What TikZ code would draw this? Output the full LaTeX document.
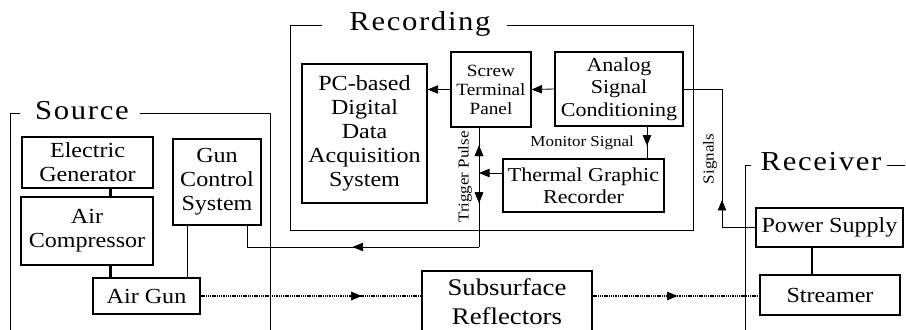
\documentclass[tikz,border=0pt]{standalone}
\usepackage{fontspec}
\setmainfont[FakeStretch=1.12]{Liberation Serif}
\newfontfamily\titlefont[FakeStretch=1.12,LetterSpace=6]{Liberation Serif}
\usetikzlibrary{arrows.meta,decorations.markings}

\tikzset{
  unit/.style={rectangle, draw, line width=0.8pt, align=center, inner sep=1pt,
    font=\fontsize{15.3}{17}\selectfont},
  frame/.style={line width=0.6pt},
  title/.style={font=\titlefont\fontsize{19.5}{21}\selectfont, inner sep=0pt},
  tag/.style={font=\fontsize{10.8}{12}\selectfont, inner sep=0pt},
  link/.style={line width=0.6pt},
  feed/.style={line width=1.6pt},
  wave/.style={line width=0.8pt, dash pattern=on 0.8pt off 0.5pt},
  >={Triangle[length=7.5pt,width=6pt]},
  tip/.style={postaction={decorate}, decoration={markings,
    mark=at position #1 with {\arrow{Triangle[length=7.5pt,width=6pt]}}}},
  backtip/.style={postaction={decorate}, decoration={markings,
    mark=at position #1 with {\arrowreversed{Triangle[length=7.5pt,width=6pt]}}}}
}

\begin{document}
\begin{tikzpicture}[x=0.025cm, y=-0.025cm]
  \clip (0,0) rectangle (906,329);

  % Frames
  \draw[frame] (322,25) -- (290,25) -- (290,230) -- (693,230) -- (693,25) -- (507,25);
  \node[title] (rectitle) at (420,24) {Recording};
  \draw[frame] (20,113) -- (10,113) -- (10,340);
  \draw[frame] (140,113) -- (270,113) -- (270,340);
  \node[title] (srctitle) at (82,111) {Source};
  \draw[frame] (751,165) -- (745,165) -- (745,340);
  \draw[frame] (887,165) -- (905,165);
  \node[title] (rcvtitle) at (821,162) {Receiver};

  % Source units
  \node[unit, minimum width=3.275cm, minimum height=1.275cm] (gen) at (87.5,162.5) {Electric\\Generator};
  \node[unit, minimum width=3.3cm, minimum height=1.7cm] (comp) at (87,231) {Air\\Compressor};
  \node[unit, minimum width=2.675cm, minimum height=0.9cm] (gun) at (146.5,296) {Air Gun};
  \node[unit, minimum width=2.2cm, minimum height=2.15cm] (gcs) at (217,182) {Gun\\Control\\System};

  % Recording units
  \node[unit, minimum width=3.125cm, minimum height=3.475cm] (pc) at (364.5,133.5) {PC-based\\Digital\\Data\\Acquisition\\System};
  \node[unit, minimum width=2cm, minimum height=1.875cm, font=\fontsize{12.2}{13.5}\selectfont] (screw) at (491,89.5) {Screw\\Terminal\\Panel};
  \node[unit, minimum width=3.2cm, minimum height=1.85cm, font=\fontsize{14}{16}\selectfont] (analog) at (619,89) {Analog\\Signal\\Conditioning};
  \node[unit, minimum width=4.025cm, minimum height=1.325cm, font=\fontsize{14}{15.6}\selectfont] (thermal) at (583.5,185.5) {Thermal Graphic\\Recorder};

  % Receiver units
  \node[unit, minimum width=3.675cm, minimum height=0.975cm] (power) at (829.5,227.5) {Power Supply};
  \node[unit, minimum width=3.5cm, minimum height=1cm] (streamer) at (830,295) {Streamer};
  \node[unit, minimum width=4.25cm, minimum height=1.55cm, font=\fontsize{17}{20.5}\selectfont] (refl) at (507,302) {Subsurface\\Reflectors};

  % Helper columns
  \coordinate (cg) at (110.5,0);
  \coordinate (gc) at (187,0);
  \coordinate (tl) at (247,247);
  \coordinate (tr) at (479,247);
  \coordinate (tp) at (479,173);
  \coordinate (mx) at (647,0);
  \coordinate (sg) at (722,0);
  \coordinate (px) at (812,0);

  % Source links
  \draw[feed] (gen.south -| cg) -- (comp.north -| cg);
  \draw[feed] (comp.south -| cg) -- (gun.north -| cg);
  \draw[link] (gcs.south -| gc) -- (gun.north -| gc);

  % Trigger pulse
  \draw[link] (gcs.south -| tl) -- (tl);
  \draw[link, tip=0.545] (tr) -- (tl);
  \draw[link, backtip=0.15, tip=0.63] (screw.south -| tr) -- (tr);
  \draw[link, ->] (thermal.west |- tp) -- (tp);
  \node[tag, rotate=90] (triglbl) at (465,177) {Trigger Pulse};

  % Recording links
  \draw[link, ->] (analog.west) -- (screw.east);
  \draw[link, ->] (screw.west) -- (screw.west -| pc.east);
  \draw[link, tip=0.6] (analog.south -| mx) -- (thermal.north -| mx)
    node[tag, midway, left=9pt] (monlbl) {Monitor Signal};

  % Receiver links
  \draw[link, tip=0.29] (power.west) -| (analog.east -| sg) -- (analog.east);
  \node[tag, rotate=90] (siglbl) at (710,159) {Signals};
  \draw[feed] (power.south -| px) -- (streamer.north -| px);

  % Seismic wave path
  \draw[wave, tip=0.73] (gun.east) -- (gun.east -| refl.west);
  \draw[wave, tip=0.51] (refl.east |- gun.east) -- (streamer.west |- gun.east);
\end{tikzpicture}
\end{document}
